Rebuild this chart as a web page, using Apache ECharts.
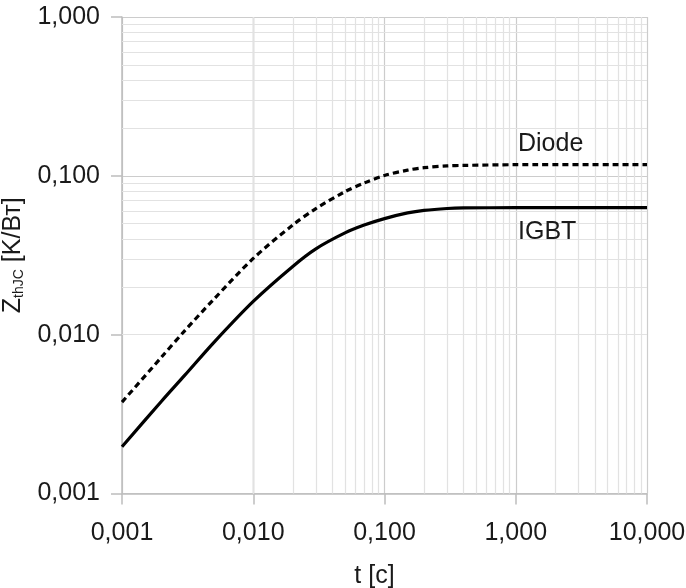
<!DOCTYPE html>
<html>
<head>
<meta charset="utf-8">
<script src="https://cdn.jsdelivr.net/npm/echarts@6/dist/echarts.min.js"></script>
<style>
  html, body { margin: 0; padding: 0; background: #fff; }
  #chart { width: 686px; height: 588px; }
</style>
</head>
<body>
<div id="chart"></div>
<script>
// Transient thermal impedance, junction to case
const timeS    = [0.001,   0.002,   0.003,   0.005,   0.01,   0.02,   0.03,   0.05,   0.07,   0.1,    0.15,   0.2,    0.3,    0.4,    1,      10];
const zthIgbt  = [0.00197, 0.00381, 0.00554, 0.00892, 0.0162, 0.0269, 0.0347, 0.0437, 0.0490, 0.0538, 0.0584, 0.0606, 0.0623, 0.0628, 0.0630, 0.0630];
const zthDiode = [0.00376, 0.00722, 0.01057, 0.0167,  0.0302, 0.0490, 0.0622, 0.0795, 0.0901, 0.1006, 0.1086, 0.1125, 0.1155, 0.1163, 0.1175, 0.1175];
const seriesNames = ['IGBT', 'Diode'];
const xRange = [0.001, 10];
const yRange = [0.001, 1];

const FONT = '"Liberation Sans", Arial, sans-serif';
const TEXT = '#1a1a1a';
const fmt = v => v.toFixed(3).replace('.', ',');

// minor log grid: 2..9 within every decade
function minorValues(lo, hi) {
  const out = [];
  for (let d = lo; d < hi * 0.999; d *= 10) {
    for (let k = 2; k <= 9; k++) out.push(+(d * k).toPrecision(3));
  }
  return out;
}

const chart = echarts.init(document.getElementById('chart'), null, { renderer: 'canvas' });

chart.setOption({
  animation: false,
  backgroundColor: '#ffffff',
  grid: { left: 122, right: 39, top: 17, bottom: 94.5, containLabel: false, outerBoundsMode: 'none' },
  xAxis: {
    type: 'log', logBase: 10, min: xRange[0], max: xRange[1],
    name: 't [с]', nameLocation: 'middle', nameGap: 70,
    nameTextStyle: { fontFamily: FONT, fontSize: 25, color: TEXT, padding: [0, 20, 0, 0] },
    axisLine: { lineStyle: { color: '#bdbdbd', width: 1.5 } },
    axisTick: { show: true, length: 11, lineStyle: { color: '#bdbdbd', width: 1.5 } },
    axisLabel: { formatter: fmt, fontFamily: FONT, fontSize: 25, color: TEXT, margin: 27 },
    splitLine: { show: true, lineStyle: { color: '#cccccc', width: 1.2 } }
  },
  yAxis: {
    type: 'log', logBase: 10, min: yRange[0], max: yRange[1],
    name: '{z|Z}{sub|thJC}{z| [K/Вт]}', nameLocation: 'middle', nameGap: 66, nameRotate: 90,
    nameTextStyle: {
      fontFamily: FONT, color: TEXT,
      rich: {
        z: { fontFamily: FONT, fontSize: 25, color: TEXT },
        sub: { fontFamily: FONT, fontSize: 14, color: TEXT, padding: [12, 0, 0, 0] }
      }
    },
    axisLine: { show: true, lineStyle: { color: '#bdbdbd', width: 1.5 } },
    axisTick: { show: true, length: 11, lineStyle: { color: '#bdbdbd', width: 1.5 } },
    axisLabel: { formatter: fmt, fontFamily: FONT, fontSize: 25, color: TEXT, margin: 22 },
    splitLine: { show: true, lineStyle: { color: '#cccccc', width: 1.2 } }
  },
  graphic: [
    { type: 'text', left: 518, top: 132, z: 10, style: { text: seriesNames[1], font: '25px ' + FONT, fill: TEXT } },
    { type: 'text', left: 518, top: 220, z: 10, style: { text: seriesNames[0], font: '25px ' + FONT, fill: TEXT } }
  ],
  series: [
    {
      name: 'grid-minor', type: 'line', data: [], silent: true, z: 0,
      markLine: {
        silent: true, symbol: 'none', animation: false,
        label: { show: false },
        lineStyle: { color: '#e2e2e2', width: 1.2, type: 'solid' },
        data: minorValues(xRange[0], xRange[1]).map(v => ({ xAxis: v }))
          .concat(minorValues(yRange[0], yRange[1]).map(v => ({ yAxis: v })))
      }
    },
    {
      name: seriesNames[0], type: 'line', z: 5,
      data: timeS.map((t, i) => [t, zthIgbt[i]]),
      showSymbol: false, smooth: 0.3,
      lineStyle: { color: '#000', width: 3.2 }
    },
    {
      name: seriesNames[1], type: 'line', z: 5,
      data: timeS.map((t, i) => [t, zthDiode[i]]),
      showSymbol: false, smooth: 0.3,
      lineStyle: { color: '#000', width: 3.2, type: [6, 4] }
    }
  ]
});
</script>
</body>
</html>
